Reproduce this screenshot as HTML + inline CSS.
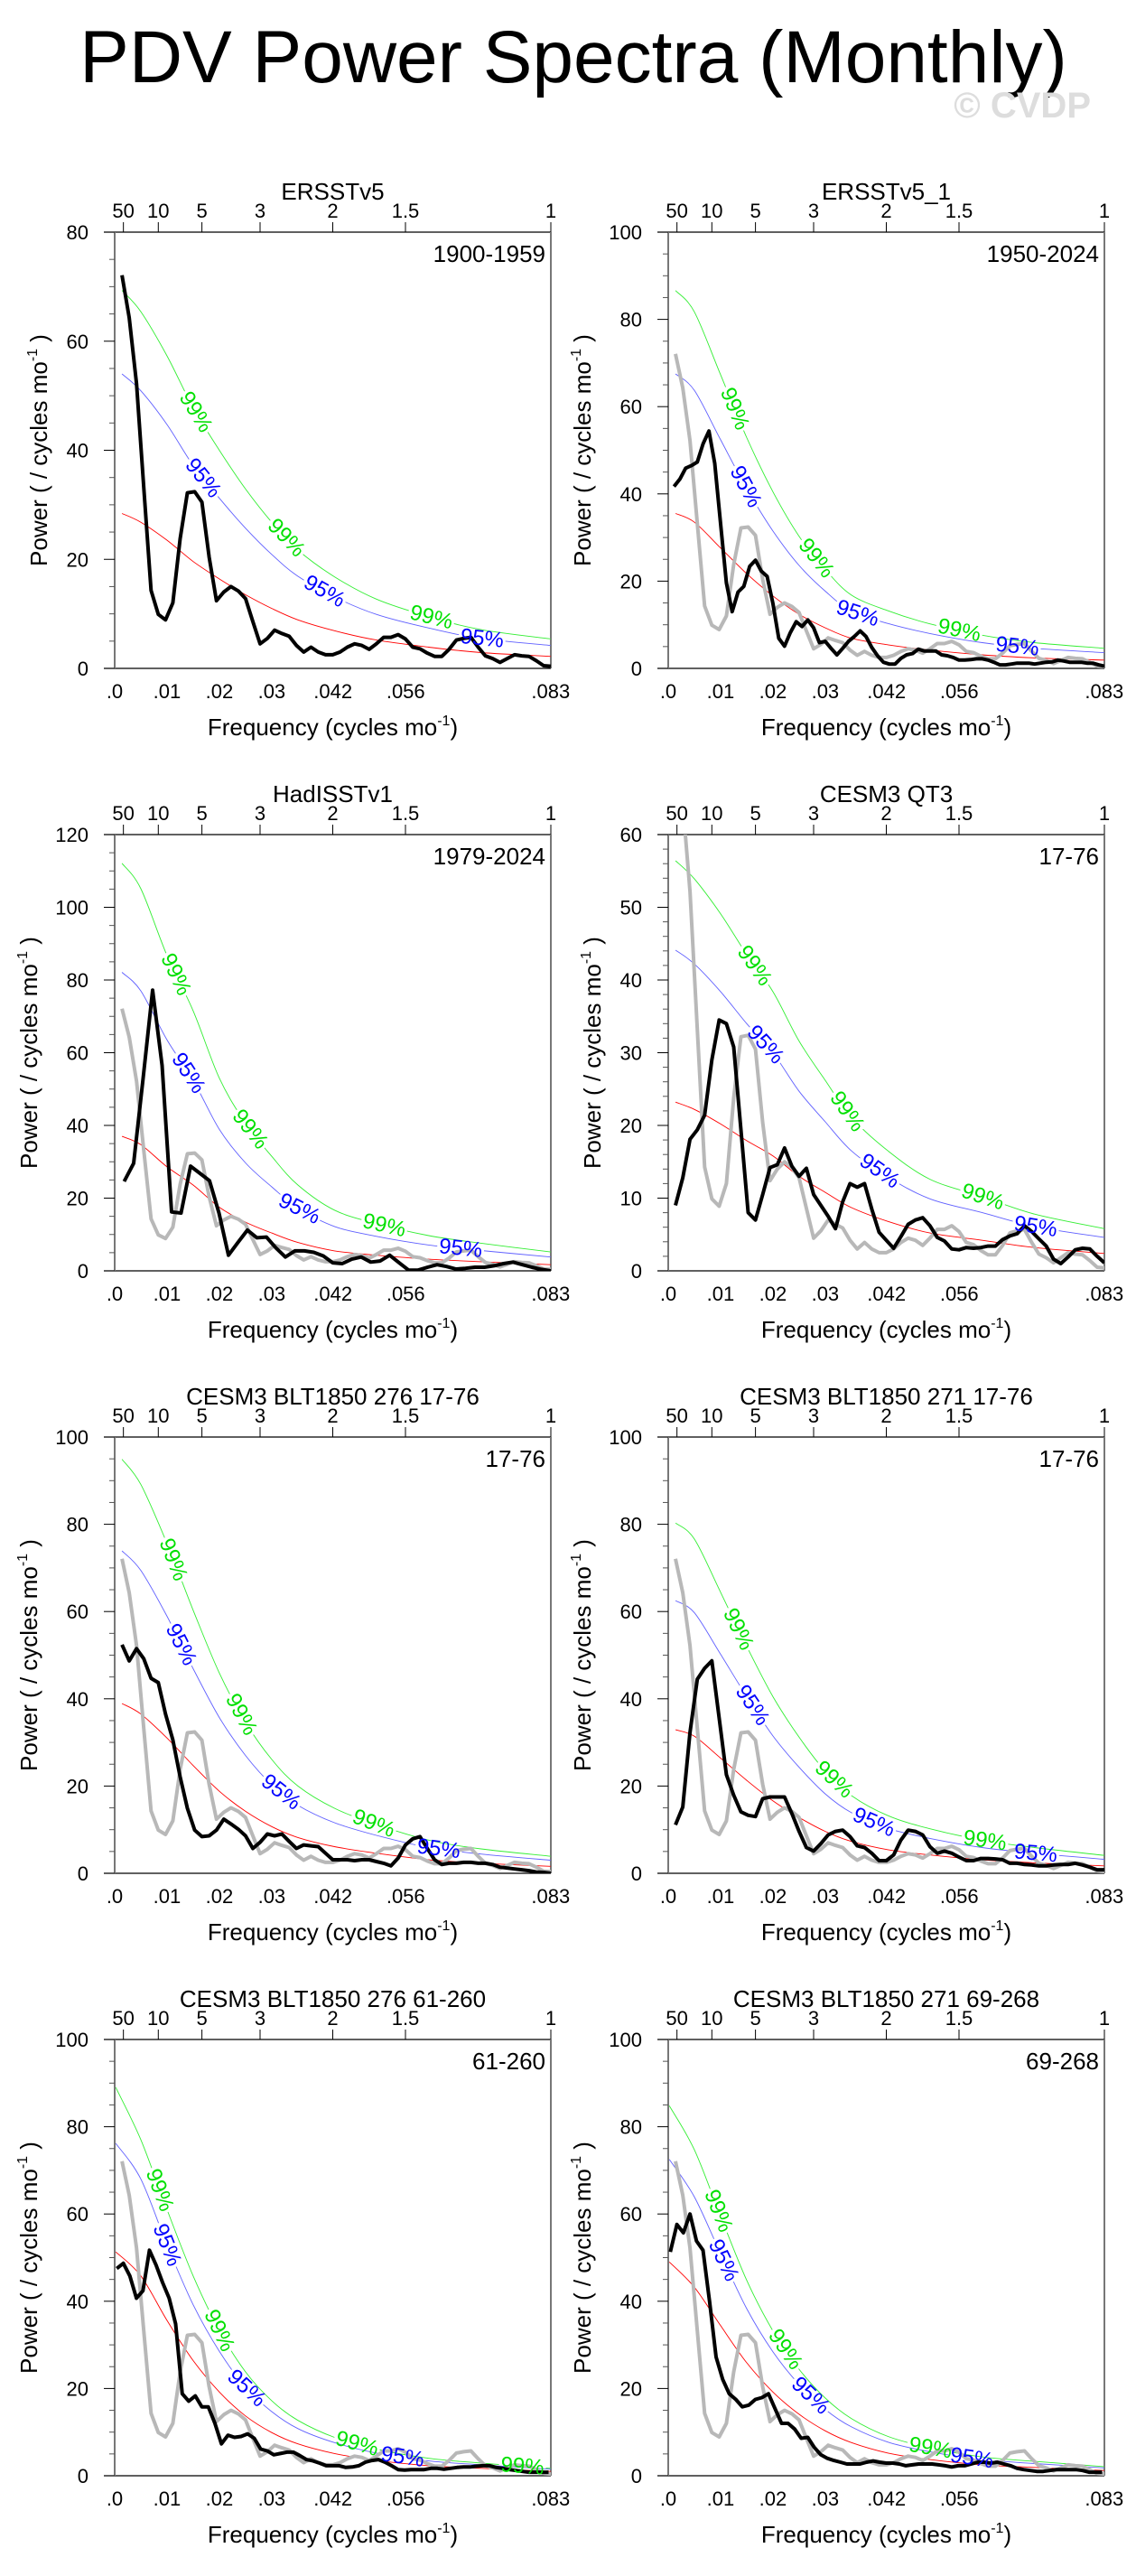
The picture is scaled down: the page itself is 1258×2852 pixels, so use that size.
<!DOCTYPE html>
<html><head><meta charset="utf-8"><title>PDV Power Spectra (Monthly)</title>
<style>
html,body{margin:0;padding:0;background:#fff;}
svg{display:block;font-family:"Liberation Sans",Arial,sans-serif;}
</style></head>
<body>
<svg id="fig" width="1258" height="2852" viewBox="0 0 1258 2852" xmlns="http://www.w3.org/2000/svg">
<text x="635" y="91" font-size="82" text-anchor="middle" fill="#000">PDV Power Spectra (Monthly)</text>
<text x="1208" y="130" font-size="40" font-weight="bold" text-anchor="end" fill="#dddddd">© CVDP</text>
</svg>
<script>
// ---- data ----
const sigFreqA = [0.0014,0.005,0.01,0.015,0.02,0.025,0.03,0.035,0.042,0.05,0.06,0.07,0.0833];
const sigFreqB = [0.0002,0.005,0.01,0.015,0.02,0.025,0.03,0.035,0.042,0.05,0.06,0.07,0.0833];
const bottomTickFreq = [0,0.01,0.02,0.03,0.0417,0.0556,0.0833];
const bottomTickLabels = [".0",".01",".02",".03",".042",".056",".083"];
const topTickPeriods = [50,10,5,3,2,1.5,1];
const topTickLabels = ["50","10","5","3","2","1.5","1"];

const p1Power = [72.1,64.3,52.2,33.2,14.3,9.9,8.9,12.0,23.8,32.2,32.4,30.5,20.4,12.4,14.0,15.0,14.2,12.8,8.6,4.5,5.5,7.0,6.4,5.9,4.2,3.0,3.9,3.0,2.5,2.5,3.0,3.9,4.5,4.2,3.5,4.5,5.7,5.7,6.2,5.4,3.9,3.6,2.8,2.2,2.2,3.5,5.2,5.5,5.7,3.9,2.3,1.8,1.1,1.8,2.5,2.3,2.2,1.4,0.5,0.4];
const p2Power = [41.7,43.4,45.9,46.5,47.3,51.5,54.4,47.0,33.1,19.6,13.0,17.5,18.8,23.4,24.8,22.3,21.1,14.9,6.9,5.1,8.2,10.7,9.6,11.1,9.3,5.9,6.2,4.6,3.1,4.6,6.2,7.3,8.6,7.3,4.8,2.9,1.4,1.0,1.0,2.3,3.1,3.4,4.4,4.0,4.0,4.0,3.1,2.9,2.5,1.9,1.9,2.0,2.2,2.2,1.9,1.4,0.8,0.8,1.0,1.2,1.2,1.2,1.0,1.2,1.4,1.5,1.9,1.7,1.4,1.4,1.4,1.2,1.2,0.8,0.5];
const p3Power = [24.6,29.6,53,77.2,56.5,16.2,15.9,28.8,26.8,24.8,15.9,4.3,7.8,11.2,9.1,9.3,6.3,3.8,5.5,5.5,5.1,4.1,2.2,2.0,3.2,3.8,2.4,2.7,4.3,2.2,0.2,0.2,1.0,1.7,1.2,0.5,0.7,1.0,1.0,1.4,2.0,2.4,1.7,1.0,0.4,0.0];
const p4Power = [9.0,12.8,18.1,19.4,21.4,29.0,34.5,34.0,30.8,19.4,8.0,7.0,10.5,14.2,14.6,16.9,14.4,13.0,14.1,10.5,9.0,7.5,5.8,9.5,12.0,11.5,12.0,8.5,5.3,4.2,3.1,4.7,6.4,7.0,7.3,6.2,4.6,4.1,3.0,2.9,3.2,3.1,3.2,3.4,3.4,4.3,4.8,5.1,6.2,5.4,4.4,3.4,1.6,1.0,1.9,2.9,3.1,3.0,2.0,1.1];
const p5Power = [52.4,48.7,51.5,49.2,44.7,43.7,36.5,30.6,22.1,14.9,9.9,8.4,8.6,9.9,12.4,11.3,10.1,8.6,5.7,7.1,9.0,8.6,9.0,7.3,5.7,6.5,6.3,6.1,4.6,3.1,3.1,3.1,2.9,3.1,3.1,2.7,2.3,1.7,3.5,6.5,7.9,8.4,5.7,3.1,2.0,2.3,2.3,2.5,2.5,2.3,2.3,2.0,1.4,1.2,1.0,0.8,0.6,0.3,0.2,0.0];
const p6Power = [11.1,15.2,32.3,44.5,47.0,48.7,35.6,22.6,17.9,14.1,13.3,13.0,17.1,17.5,17.5,17.5,13.7,9.6,5.9,5.1,6.8,8.8,9.6,9.9,8.4,6.3,5.9,4.6,2.9,2.9,4.2,7.6,9.9,9.6,8.8,6.1,4.6,5.1,4.6,3.7,2.9,2.9,3.4,3.4,3.3,3.1,2.3,2.3,2.0,1.9,1.7,1.7,1.9,2.0,2.0,2.3,1.9,1.4,0.8,0.8];
const p7Power = [47.5,48.7,45.8,40.7,42.4,51.7,48.3,44.3,40.7,34.8,18.8,17.1,18.3,15.8,15.8,12.0,7.3,9.3,8.8,9.0,9.6,8.6,6.1,5.7,4.8,5.1,5.4,5.4,4.6,3.7,3.4,2.9,2.3,2.3,2.3,1.9,2.0,2.3,3.1,3.5,3.7,3.1,2.3,1.4,1.3,1.4,1.4,1.4,1.7,1.7,1.5,1.7,1.9,2.0,2.0,2.2,2.3,2.3,1.9,1.7,1.4,1.2,1.0,0.8,0.8,0.8,0.8];
const p8Power = [51.3,57.6,55.7,60.0,53.8,51.7,39.9,27.2,22.1,18.8,17.5,15.8,16.2,17.5,17.9,18.8,15.4,12.0,12.0,10.7,8.6,8.8,6.5,4.8,4.0,3.5,3.1,2.7,2.7,2.7,3.1,3.4,3.1,2.9,2.9,2.7,2.3,2.5,2.7,2.7,2.7,2.5,2.3,2.0,2.3,2.3,2.7,3.1,3.1,2.9,3.1,2.7,2.3,1.7,1.4,1.2,1.0,1.0,1.2,1.4,1.4,1.4,1.4,1.2,0.8,0.8,0.8];

const p1Red   = [28.4,26.8,23.5,19.6,16.4,13.5,11.0,8.9,6.9,5.2,3.9,2.9,2.2];
const p1Blue  = [54.0,50.9,44.7,37.2,31.2,25.7,20.9,16.9,13.1,9.9,7.4,5.5,4.2];
const p1Green = [69.3,65.4,57.3,47.8,40.0,32.9,26.8,21.7,16.8,12.7,9.5,7.1,5.4];
const p2Red   = [35.5,33.5,27.6,21.7,16.6,12.4,9.3,6.9,5.4,4.2,3.1,2.4,1.9];
const p2Blue  = [67.5,63.7,52.4,41.2,31.5,23.6,17.7,13.1,10.3,8.0,5.9,4.6,3.6];
const p2Green = [86.6,81.7,67.3,52.9,40.5,30.3,22.7,16.8,13.2,10.2,7.6,5.9,4.6];
const p3Red   = [37,34.7,28.6,23.6,17.5,13.4,10.4,7.8,5.5,4.3,3.2,2.5,1.7];
const p3Blue  = [82.1,77.0,63.5,52.4,38.9,29.7,23.1,17.3,12.2,9.5,7.1,5.6,3.8];
const p3Green = [112.1,105.1,86.7,71.5,53.0,40.6,31.5,23.6,16.7,13.0,9.7,7.6,5.2];
const p4Red   = [23.2,22.2,20.2,17.9,15.8,13.0,10.8,8.7,6.8,5.2,4.2,3.2,2.4];
const p4Blue  = [44.1,42.2,38.4,34.0,30.0,24.7,20.5,16.5,12.9,9.9,8.0,6.1,4.6];
const p4Green = [56.4,53.9,49.1,43.5,38.4,31.6,26.2,21.1,16.5,12.6,10.2,7.8,5.8];
const p5Red   = [38.9,36.5,31,24.7,18.8,14.2,10.7,8.2,6.1,4.6,3.1,2.3,1.6];
const p5Blue  = [73.9,69.4,58.9,46.9,35.7,27.0,20.3,15.6,11.6,8.7,5.9,4.4,3.0];
const p5Green = [94.9,89.1,75.6,60.3,45.9,34.6,26.1,20.0,14.9,11.2,7.6,5.6,3.9];
const p6Red   = [32.9,31.4,26.4,21.3,16.6,12.8,9.6,7.3,5.4,4.2,3.1,2.4,1.7];
const p6Blue  = [62.5,59.7,50.2,40.5,31.5,24.3,18.2,13.9,10.3,8.0,5.9,4.6,3.2];
const p6Green = [80.3,76.6,64.4,52.0,40.5,31.2,23.4,17.8,13.2,10.2,7.6,5.9,4.1];
const p7Red   = [51.3,45.8,35.6,26.4,19.2,13.7,9.9,7.3,5.1,3.5,2.3,1.7,1.0];
const p7Blue  = [76.2,68.0,52.9,39.2,28.5,20.3,14.7,10.8,7.6,5.2,3.4,2.5,1.5];
const p7Green = [89.0,77.0,61.0,45.8,33.3,23.8,17.2,12.7,8.8,6.1,4.0,2.9,1.7];
const p8Red   = [49,43.2,34.4,25.9,19.2,14.1,10.3,7.6,5.2,3.7,2.5,1.9,1.2];
const p8Blue  = [72.5,63.9,50.9,38.3,28.4,20.9,15.2,11.2,7.7,5.5,3.7,2.8,1.8];
const p8Green = [84.8,74.7,59.5,44.8,33.2,24.4,17.8,13.1,9.0,6.4,4.3,3.3,2.1];

const panelTitles = ["ERSSTv5","ERSSTv5_1","HadISSTv1","CESM3 QT3","CESM3 BLT1850 276 17-76","CESM3 BLT1850 271 17-76","CESM3 BLT1850 276 61-260","CESM3 BLT1850 271 69-268"];
const panelPeriods = ["1900-1959","1950-2024","1979-2024","17-76","17-76","17-76","61-260","69-268"];
const panelYMax = [80,100,120,60,100,100,100,100];
const panelYMajor = [20,20,20,10,20,20,20,20];
const panelYMinor = [5,5,5,2,5,5,5,5];
const panelPower = [p1Power,p2Power,p3Power,p4Power,p5Power,p6Power,p7Power,p8Power];
const panelF0 = [1/720,1/900,1/552,1/720,1/720,1/720,0.0004,0.0004];
const panelDf = [1/720,1/900,1/552,1/720,1/720,1/720,1/800,1/800];
const panelRed = [p1Red,p2Red,p3Red,p4Red,p5Red,p6Red,p7Red,p8Red];
const panelBlue = [p1Blue,p2Blue,p3Blue,p4Blue,p5Blue,p6Blue,p7Blue,p8Blue];
const panelGreen = [p1Green,p2Green,p3Green,p4Green,p5Green,p6Green,p7Green,p8Green];
const panelSigFreq = [sigFreqA,sigFreqA,sigFreqA,sigFreqA,sigFreqA,sigFreqA,sigFreqB,sigFreqB];
const green99LabelFreq = [[.0155,.0328,.0605],[.0127,.0283,.0556],[.0117,.0259,.0515],[.0165,.0342,.0601],[.0112,.0242,.0495],[.0134,.0317,.0605],[.0086,.020,.0463,.0779],[.0096,.0224,.0501]];
const blue95LabelFreq = [[.0169,.0401,.0702],[.0148,.0362,.0667],[.0141,.0353,.0661],[.0186,.0404,.0702],[.0127,.0318,.0619],[.0161,.0393,.0702],[.010,.0252,.055],[.0106,.0272,.058]];

// ---- drawing ----
const NS = "http://www.w3.org/2000/svg";
const svg = document.getElementById("fig");
const FMAX = 1/12;
function mk(tag, attrs, parent){
  const e = document.createElementNS(NS, tag);
  for (const k in attrs) e.setAttribute(k, attrs[k]);
  (parent||svg).appendChild(e);
  return e;
}
function smoothPath(pts){
  let d = "M" + pts[0][0].toFixed(1) + "," + pts[0][1].toFixed(1);
  for (let i=0;i<pts.length-1;i++){
    const p0 = pts[Math.max(0,i-1)], p1 = pts[i], p2 = pts[i+1], p3 = pts[Math.min(pts.length-1,i+2)];
    const c1x = p1[0]+(p2[0]-p0[0])/6, c1y = p1[1]+(p2[1]-p0[1])/6;
    const c2x = p2[0]-(p3[0]-p1[0])/6, c2y = p2[1]-(p3[1]-p1[1])/6;
    d += " C"+c1x.toFixed(1)+","+c1y.toFixed(1)+" "+c2x.toFixed(1)+","+c2y.toFixed(1)+" "+p2[0].toFixed(1)+","+p2[1].toFixed(1);
  }
  return d;
}
function linePath(pts){
  return pts.map((p,i)=>(i?"L":"M")+p[0].toFixed(1)+","+p[1].toFixed(1)).join(" ");
}

for (let i=0;i<8;i++){
  const col = i%2, row = Math.floor(i/2);
  const L = col ? 740 : 127, T = 257 + 667*row, W = 483, H = 483;
  const ymax = panelYMax[i];
  const xs = f => L + f/FMAX*W;
  const ys = v => T + H - v/ymax*H;
  const g = mk("g", {});
  
  

  const clipId = "clip"+i;
  const defs = mk("defs", {}, g);
  const cp = mk("clipPath", {id: clipId}, defs);
  mk("rect", {x:L, y:T, width:W, height:H}, cp);

  // title
  const t = mk("text", {x:L+W/2, y:T-36, "font-size":26, "text-anchor":"middle"}, g);
  
  
  t.textContent = panelTitles[i];

  // period label
  const pl = mk("text", {x:L+W-6, y:T+33, "font-size":26, "text-anchor":"end"}, g);
  
  
  pl.textContent = panelPeriods[i];

  // frame
  const fr = mk("g", {}, g);
  
  
  mk("line", {x1:L-12, y1:T, x2:L+W, y2:T, stroke:"#000", "stroke-width":1.3}, fr);
  mk("line", {x1:L-12, y1:T+H, x2:L+W, y2:T+H, stroke:"#000", "stroke-width":1.3}, fr);
  mk("line", {x1:L, y1:T, x2:L, y2:T+H, stroke:"#777", "stroke-width":2}, fr);
  mk("line", {x1:L+W, y1:T, x2:L+W, y2:T+H, stroke:"#777", "stroke-width":2}, fr);

  // y ticks
  const yax = mk("g", {}, g);
  
  
  for (let v=0; v<=ymax+1e-9; v+=panelYMinor[i]){
    const major = Math.abs(v/panelYMajor[i]-Math.round(v/panelYMajor[i]))<1e-6;
    mk("line", {x1:L-(major?12:6), y1:ys(v), x2:L, y2:ys(v), stroke:major?"#000":"#555", "stroke-width":1}, yax);
    if (major){
      const tl = mk("text", {x:L-29, y:ys(v)+8, "font-size":22, "text-anchor":"end"}, yax);
      
      
      tl.textContent = String(v);
    }
  }
  const yoff = ymax>=100 ? 95 : 84;
  const yt = mk("text", {x:0, y:0, "font-size":26, "text-anchor":"middle", transform:"translate("+(L-yoff+9)+","+(T+H/2)+") rotate(-90)"}, g);
  
  
  yt.innerHTML = 'Power ( / cycles mo<tspan font-size="16" dy="-11">-1</tspan><tspan dy="11"> )</tspan>';

  // bottom axis
  const xax = mk("g", {}, g);
  
  
  for (let k=0;k<bottomTickFreq.length;k++){
    const bl = mk("text", {x:xs(bottomTickFreq[k]), y:T+H+33, "font-size":22, "text-anchor":"middle"}, xax);
    
    
    bl.textContent = bottomTickLabels[k];
  }
  const xt = mk("text", {x:L+W/2, y:T+H+74, "font-size":26, "text-anchor":"middle"}, g);
  
  
  xt.innerHTML = 'Frequency (cycles mo<tspan font-size="16" dy="-11">-1</tspan><tspan dy="11">)</tspan>';

  // top period axis
  const tax = mk("g", {}, g);
  
  
  for (let k=0;k<topTickPeriods.length;k++){
    const x = xs(1/(12*topTickPeriods[k]));
    mk("line", {x1:x, y1:T, x2:x, y2:T-11, stroke:"#000", "stroke-width":1}, tax);
    const tl = mk("text", {x:x, y:T-16, "font-size":22, "text-anchor":"middle"}, tax);
    
    
    tl.textContent = topTickLabels[k];
  }

  const sf = panelSigFreq[i];
  // compute label placements first (for gaps)
  function labelPlacements(freqs, arr){
    const out = [];
    for (const f of freqs){
      let k = 0;
      while (k < sf.length-2 && sf[k+1] < f) k++;
      const x0 = xs(sf[k]), x1 = xs(sf[k+1]);
      const y0 = ys(arr[k]), y1 = ys(arr[k+1]);
      const tt = (xs(f)-x0)/(x1-x0);
      out.push([xs(f), y0 + tt*(y1-y0), Math.atan2(y1-y0, x1-x0)*180/Math.PI]);
    }
    return out;
  }
  const gPl = labelPlacements(green99LabelFreq[i], panelGreen[i]);
  const bPl = labelPlacements(blue95LabelFreq[i], panelBlue[i]);
  function makeMask(id, pls){
    const m = mk("mask", {id:id, maskUnits:"userSpaceOnUse", x:0, y:0, width:1258, height:2852}, defs);
    mk("rect", {x:0, y:0, width:1258, height:2852, fill:"#fff"}, m);
    for (const [x,y,a] of pls){
      mk("rect", {x:-26, y:-11, width:52, height:22, fill:"#000", transform:"translate("+x.toFixed(1)+","+y.toFixed(1)+") rotate("+a.toFixed(1)+")"}, m);
    }
  }
  makeMask("mg"+i, gPl);
  makeMask("mb"+i, bPl);

  const plot = mk("g", {"clip-path":"url(#"+clipId+")"}, g);

  // significance curves
  const sigSets = [[panelGreen[i],"#33ee33","green-99-curve","url(#mg"+i+")"],[panelBlue[i],"#6060ff","blue-95-curve","url(#mb"+i+")"],[panelRed[i],"#ff0000","red-noise-curve",null]];
  for (const [arr,color,name,mask] of sigSets){
    const pts = arr.map((v,k)=>[xs(sf[k]), ys(v)]);
    const attrs = {d:smoothPath(pts), fill:"none", stroke:color, "stroke-width":0.9};
    if (mask) attrs.mask = mask;
    const p = mk("path", attrs, plot);
    
    
  }

  // reference (gray) line
  if (i>0){
    const pts = p1Power.map((v,k)=>[xs(panelF0[0]+k*panelDf[0]), ys(v)]);
    const gp = mk("path", {d:linePath(pts), fill:"none", stroke:"#b8b8b8", "stroke-width":4, "stroke-linejoin":"round"}, plot);
    
    
  }
  // main spectrum
  const pw = panelPower[i];
  const mpts = pw.map((v,k)=>[xs(panelF0[i]+k*panelDf[i]), ys(v)]);
  const mp = mk("path", {d:linePath(mpts), fill:"none", stroke:"#000", "stroke-width":4, "stroke-linejoin":"round"}, plot);
  
  

  // significance labels
  function drawLabels(pls, color, txt, nm){
    for (const [x,y,a] of pls){
      const lab = mk("text", {x:0, y:0, "font-size":24, "text-anchor":"middle", "dominant-baseline":"central", fill:color, transform:"translate("+x.toFixed(1)+","+y.toFixed(1)+") rotate("+a.toFixed(1)+")"}, g);
      
      
      lab.textContent = txt;
    }
  }
  drawLabels(gPl, "#00e000", "99%", "label-99-percent");
  drawLabels(bPl, "#0000ff", "95%", "label-95-percent");
}
</script>
</body></html>
